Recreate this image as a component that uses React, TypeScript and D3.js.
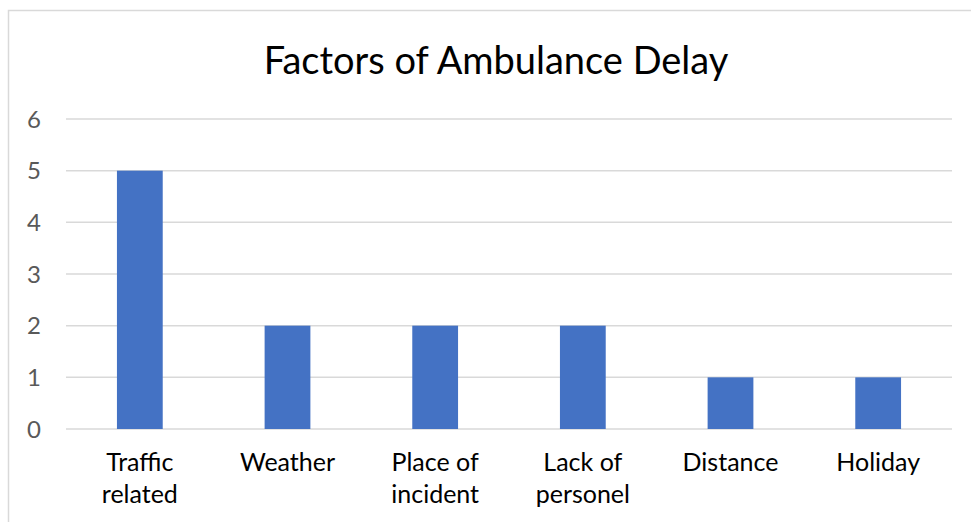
import React, { useRef, useEffect } from "react";
import * as d3 from "d3";

const categories = [["Traffic", "related"], ["Weather"], ["Place of", "incident"], ["Lack of", "personel"], ["Distance"], ["Holiday"]];
const values = [5, 2, 2, 2, 1, 1];
const yTicks = [0, 1, 2, 3, 4, 5, 6];

export default function App() {
    const svgRef = useRef<SVGSVGElement>(null);

    useEffect(() => {
        const width = 971;
        const height = 522;
        const margin = { top: 119, right: 19, bottom: 93, left: 66 };
        const font = "Lato, 'Open Sans', sans-serif";

        const svg = d3.select(svgRef.current);
        svg.selectAll("*").remove();
        svg.attr("width", width).attr("height", height);

        // chart border
        svg.append("rect")
            .attr("x", 8.5).attr("y", 10.5)
            .attr("width", 980).attr("height", 530)
            .attr("fill", "white")
            .attr("stroke", "#d9d9d9")
            .attr("stroke-width", 1.5);

        const keys = categories.map((c) => c.join(" "));
        const x = d3.scaleBand()
            .domain(keys)
            .range([margin.left, width - margin.right])
            .paddingInner(0.69)
            .paddingOuter(0.345);

        const y = d3.scaleLinear()
            .domain([0, 6])
            .range([height - margin.bottom, margin.top]);

        svg.append("g")
            .selectAll("line")
            .data(yTicks)
            .enter()
            .append("line")
            .attr("x1", margin.left)
            .attr("x2", width - margin.right)
            .attr("y1", (d) => y(d))
            .attr("y2", (d) => y(d))
            .attr("stroke", "#d9d9d9")
            .attr("stroke-width", 1.5);

        svg.append("g")
            .selectAll("text")
            .data(yTicks)
            .enter()
            .append("text")
            .attr("x", 41)
            .attr("y", (d) => y(d))
            .attr("dy", "0.36em")
            .attr("text-anchor", "end")
            .style("font-family", font)
            .style("font-size", "24px")
            .attr("fill", "#595959")
            .text((d) => d);

        svg.append("g")
            .selectAll("rect")
            .data(values)
            .enter()
            .append("rect")
            .attr("x", (_, i) => x(keys[i]) as number)
            .attr("width", x.bandwidth())
            .attr("y", (d) => y(d))
            .attr("height", (d) => y(0) - y(d))
            .attr("fill", "#4472c4");

        const labels = svg.append("g")
            .selectAll("text")
            .data(categories)
            .enter()
            .append("text")
            .attr("x", (_, i) => (x(keys[i]) as number) + x.bandwidth() / 2)
            .attr("y", 471)
            .attr("text-anchor", "middle")
            .style("font-family", font)
            .style("font-size", "25px")
            .attr("fill", "#000");

        labels.selectAll("tspan")
            .data((d) => d)
            .enter()
            .append("tspan")
            .attr("x", function () {
                return (this.parentNode as SVGTextElement).getAttribute("x");
            })
            .attr("dy", (_, j) => (j === 0 ? 0 : 32))
            .text((d) => d);

        svg.append("text")
            .attr("x", 496)
            .attr("y", 74)
            .attr("text-anchor", "middle")
            .style("font-family", font)
            .style("font-size", "38px")
            .attr("fill", "#000")
            .text("Factors of Ambulance Delay");
    }, []);

    return <svg ref={svgRef} style={{ position: "absolute", left: 0, top: 0 }}></svg>;
}
